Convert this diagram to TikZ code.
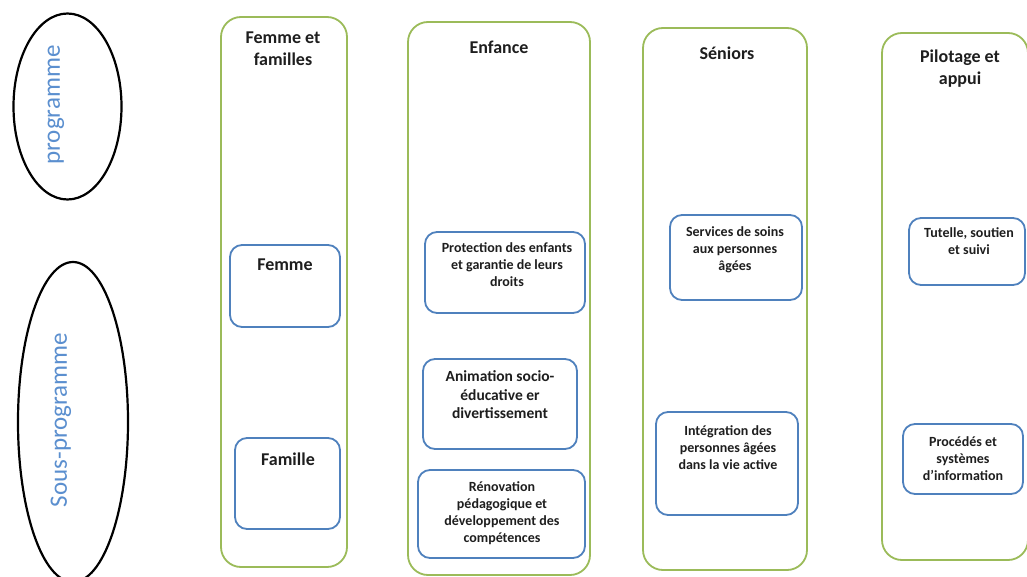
\documentclass[tikz,border=0pt]{standalone}
\usepackage{fontspec}
\setmainfont{Carlito}
\usetikzlibrary{shapes.geometric}
\definecolor{grn}{HTML}{9BBB59}
\definecolor{blu}{HTML}{4F81BD}
\definecolor{lblu}{HTML}{5B8FCF}
\definecolor{txt}{HTML}{1E1E1E}
\tikzset{
  colbox/.style={draw=grn, line width=1.8pt, rounded corners=20pt, inner sep=0pt},
  subbox/.style={draw=blu, line width=1.8pt, rounded corners=12pt, inner sep=0pt},
  oval/.style={draw=black, line width=2.2pt, ellipse, inner sep=0pt},
  ttl/.style={text=txt, font=\bfseries\fontsize{18}{22}\selectfont, align=center, inner sep=0pt},
  sub/.style={text=txt, font=\bfseries\fontsize{14}{17}\selectfont, align=center, inner sep=0pt},
  subbig/.style={text=txt, font=\bfseries\fontsize{15.5}{18.5}\selectfont, align=center, inner sep=0pt},
  side/.style={text=lblu, font=\fontsize{25}{30}\selectfont, rotate=90, inner sep=0pt}
}
\begin{document}
\begin{tikzpicture}[x=1pt,y=-1pt]
\useasboundingbox (0,0) rectangle (1027,577);
\fill[white] (0,0) rectangle (1027,577);
% ellipses
\node[oval, minimum width=108pt, minimum height=186pt] (e1) at (67.5,106.5) {};
\node[oval, minimum width=110pt, minimum height=320pt] (e2) at (73,422) {};
\node[side] (t1) at (56,105) {programme};
\node[side] (t2) at (61,420) {Sous-programme};
% columns
\node[colbox, minimum width=126pt, minimum height=550pt] (c1) at (284,292) {};
\node[colbox, minimum width=182pt, minimum height=553pt] (c2) at (499,298.5) {};
\node[colbox, minimum width=164pt, minimum height=542pt] (c3) at (725,299) {};
\node[colbox, minimum width=146pt, minimum height=527pt] (c4) at (955,296.5) {};
\node[ttl] (h1) at (283,49) {Femme et\\familles};
\node[ttl] (h2) at (499,47) {Enfance};
\node[ttl] (h3) at (727,53) {Séniors};
\node[ttl] (h4) at (960,68.5) {Pilotage et\\appui};
% sub boxes
\node[subbox, minimum width=110pt, minimum height=82pt] (b1) at (285,286) {};
\node[ttl] (s1) at (285,265) {Femme};
\node[subbox, minimum width=105pt, minimum height=91pt] (b2) at (287.5,483.5) {};
\node[ttl] (s2) at (288,459) {Famille};
\node[subbox, minimum width=160pt, minimum height=81pt] (b3) at (505,272.5) {};
\node[sub] (s3) at (507,265) {Protection des enfants\\et garantie de leurs\\droits};
\node[subbox, minimum width=154pt, minimum height=90pt] (b4) at (500,404) {};
\node[subbig] (s4) at (500,395) {Animation socio-\\éducative er\\divertissement};
\node[subbox, minimum width=167pt, minimum height=88pt] (b5) at (501.5,514) {};
\node[sub] (s5) at (502,513) {Rénovation\\pédagogique et\\développement des\\compétences};
\node[subbox, minimum width=132pt, minimum height=85pt] (b6) at (736,257.5) {};
\node[sub] (s6) at (735,249.5) {Services de soins\\aux personnes\\âgées};
\node[subbox, minimum width=142pt, minimum height=103pt] (b7) at (727,463.5) {};
\node[sub] (s7) at (728,447.5) {Intégration des\\personnes âgées\\dans la vie active};
\node[subbox, minimum width=116pt, minimum height=67pt] (b8) at (967,251.5) {};
\node[sub] (s8) at (969,241) {Tutelle, soutien\\et suivi};
\node[subbox, minimum width=120pt, minimum height=70pt] (b9) at (963,459) {};
\node[sub] (s9) at (963,458.5) {Procédés et\\systèmes\\d’information};
\end{tikzpicture}
\end{document}
